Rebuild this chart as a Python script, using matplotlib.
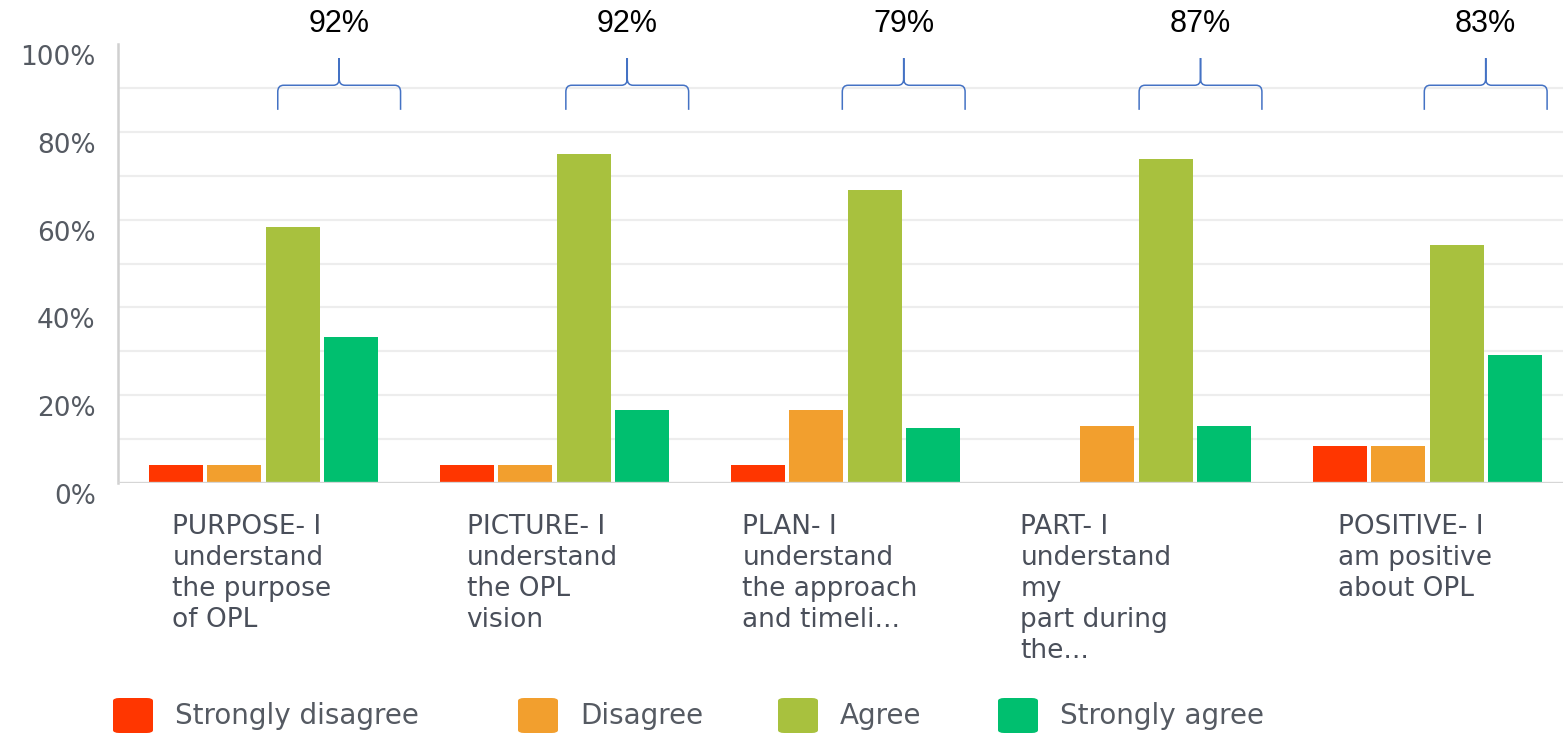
import matplotlib
matplotlib.use("Agg")
import matplotlib.pyplot as plt
import numpy as np
from matplotlib.path import Path
from matplotlib.patches import PathPatch, FancyBboxPatch
from matplotlib.transforms import ScaledTranslation

# Survey results (% of respondents per answer)
categories = [
    "PURPOSE- I\nunderstand\nthe purpose\nof OPL",
    "PICTURE- I\nunderstand\nthe OPL\nvision",
    "PLAN- I\nunderstand\nthe approach\nand timeli...",
    "PART- I\nunderstand\nmy\npart during\nthe...",
    "POSITIVE- I\nam positive\nabout OPL",
]
answers = ["Strongly disagree", "Disagree", "Agree", "Strongly agree"]
strongly_disagree = [4.17, 4.17, 4.17, 0.0, 8.33]
disagree = [4.17, 4.17, 16.67, 13.04, 8.33]
agree = [58.33, 75.00, 66.67, 73.91, 54.17]
strongly_agree = [33.33, 16.67, 12.50, 13.04, 29.17]
y_ticks = [0, 20, 40, 60, 80, 100]

series = [strongly_disagree, disagree, agree, strongly_agree]
colors = ["#FF3600", "#F29F2E", "#A8C13E", "#00BF6F"]

# layout
bar_offsets = [-0.3, -0.1, 0.1, 0.3]
bar_width = 0.185
label_shift = [-0.313, -0.302, -0.354, -0.399, -0.306]
brace_shift = [0.26, 0.25, 0.20, 0.22, 0.20]
brace_half = 0.211

W, H = 1563, 734
fig = plt.figure(figsize=(W / 100, H / 100), dpi=100)
ax = fig.add_axes([118 / W, (H - 483) / H, 1 - 118 / W, (483 - 44) / H])

x = np.arange(len(categories))
for vals, off, col in zip(series, bar_offsets, colors):
    ax.bar(x + off, vals, width=bar_width, color=col, zorder=3)

ax.set_xlim(-0.5, (W - 118) / 291 - 0.5)
ax.set_ylim(0, 100)

# light horizontal grid
for g in range(10, 100, 10):
    ax.axhline(g, color="#ededed", lw=1.6, zorder=1)
ax.axhline(0, color="#d6d6d6", lw=2.4, zorder=4)

for s in ["top", "right", "bottom"]:
    ax.spines[s].set_visible(False)
ax.spines["left"].set_color("#d0d0d0")
ax.spines["left"].set_linewidth(1.8)

ax.set_xticks([])
ax.set_yticks(y_ticks)
ax.set_yticklabels([f"{t}%" for t in y_ticks], fontsize=19, color="#555a62",
                   family="DejaVu Sans")
ax.tick_params(axis="y", length=0, pad=16)
shift = ScaledTranslation(0, -0.11, fig.dpi_scale_trans)
for lab in ax.get_yticklabels():
    lab.set_transform(lab.get_transform() + shift)

# category labels under each group
for i, (cat, sh) in enumerate(zip(categories, label_shift)):
    ax.annotate(cat, xy=(i + sh, 0), xycoords=("data", "axes fraction"),
                xytext=(0, -22), textcoords="offset points",
                ha="left", va="top", fontsize=19, color="#4a4f5a",
                linespacing=1.25, family="DejaVu Sans", annotation_clip=False)


def brace(xc, half, yb, yh, yt, rx=0.02, ry=1.5):
    x0, x1 = xc - half, xc + half
    verts, codes = [], []
    for sx, ex in ((x0, 1), (x1, -1)):
        verts += [(sx, yb), (sx, yh - ry), (sx, yh), (sx + ex * rx, yh),
                  (xc - ex * rx, yh), (xc, yh), (xc, yh + ry), (xc, yt)]
        codes += [Path.MOVETO, Path.LINETO, Path.CURVE3, Path.CURVE3,
                  Path.LINETO, Path.CURVE3, Path.CURVE3, Path.LINETO]
    return Path(verts, codes)


# combined Agree + Strongly agree share above each group
for i, (a, sa, bs) in enumerate(zip(agree, strongly_agree, brace_shift)):
    xc = i + bs
    patch = PathPatch(brace(xc, brace_half, 85.0, 90.6, 96.8),
                      fill=False, edgecolor="#4472C4", lw=1.1, clip_on=False,
                      zorder=5)
    ax.add_patch(patch)
    ax.text(xc, 104.6, f"{round(a + sa)}%", ha="center", va="center",
            fontsize=22, color="black", family="Liberation Sans", clip_on=False)

# legend row
legend_x = [113, 518, 778, 998]
for lx, name, col in zip(legend_x, answers, colors):
    fig.add_artist(FancyBboxPatch((lx / W, (H - 733) / H), 40 / W, 35 / H,
                                  boxstyle="round,pad=0,rounding_size=0.004",
                                  transform=fig.transFigure, facecolor=col,
                                  edgecolor="none"))
    fig.text((lx + 62) / W, (H - 716) / H, name, ha="left", va="center",
             fontsize=20, color="#555a62", family="DejaVu Sans")

fig.savefig("out.png", dpi=100, facecolor="white")
